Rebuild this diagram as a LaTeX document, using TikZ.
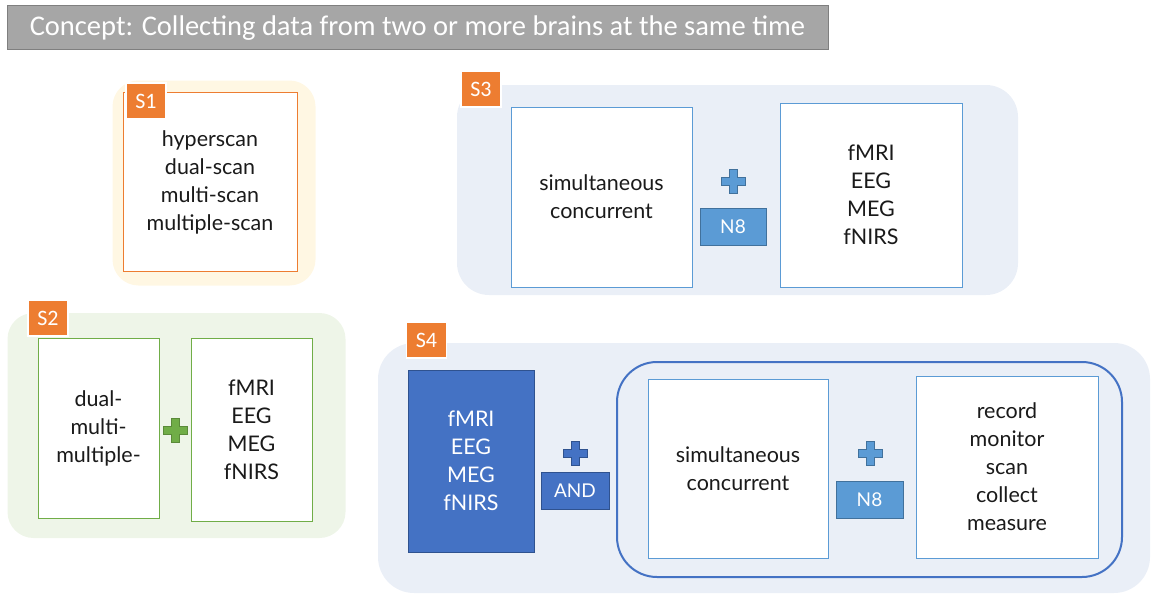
\documentclass[tikz,border=0pt]{standalone}
\usepackage{fontspec}
\setmainfont{Lato}
\newfontfamily\calfont{Carlito}
\definecolor{orangeS}{HTML}{ED7D31}
\definecolor{yellowbg}{HTML}{FFF7E3}
\definecolor{greenbg}{HTML}{EEF5E8}
\definecolor{greenS}{HTML}{70AD47}
\definecolor{bluebg}{HTML}{EAEFF7}
\definecolor{lblue}{HTML}{5B9BD5}
\definecolor{dblue}{HTML}{4472C4}
\definecolor{dbluebd}{HTML}{2F528F}
\definecolor{lbluebd}{HTML}{41719C}
\definecolor{titlegray}{HTML}{A6A6A6}
\definecolor{titlebd}{HTML}{7F7F7F}
\definecolor{txt}{HTML}{1A1A1A}
\begin{document}
\begin{tikzpicture}[x=1pt,y=-1pt,
  bodyfont/.style={font=\fontsize{21.5}{28}\selectfont},
  titlebox/.style={fill=titlegray,draw=titlebd,line width=1pt,text=white,inner sep=0pt,
    font=\calfont\fontsize{28.5}{32}\selectfont},
  group/.style={rounded corners=#1,inner sep=0pt},
  slabel/.style={fill=orangeS,draw=white,line width=1.5pt,text=white,inner sep=0pt,
    minimum width=40,minimum height=36,font=\calfont\fontsize{22}{24}\selectfont},
  wbox/.style={fill=white,draw=#1,line width=0.9pt,inner sep=0pt,align=center,text=txt,bodyfont},
  tag/.style={fill=#1,draw=lbluebd,line width=0.6pt,text=white,inner sep=0pt,
    minimum width=66,minimum height=37,font=\fontsize{19}{22}\selectfont},
  crossmark/.pic={\path[pic actions] (-12,-4) -- (-4,-4) -- (-4,-12) -- (4,-12) -- (4,-4)
     -- (12,-4) -- (12,4) -- (4,4) -- (4,12) -- (-4,12) -- (-4,4) -- (-12,4) -- cycle;}
]
\useasboundingbox (0,0) rectangle (1151,594);

% title
\node[titlebox,minimum width=821,minimum height=44] (title) at (417.5,28)
  {Concept: Collecting data from two or more brains at the same time};

% S1
\node[group=26,fill=yellowbg,minimum width=203,minimum height=205] (g1) at (214,183) {};
\node[wbox=orangeS,minimum width=174,minimum height=179] (s1box) at (210,182)
  {hyperscan\\dual-scan\\multi-scan\\multiple-scan};
\node[slabel] (s1) at (146,101) {S1};

% S2
\node[group=26,fill=greenbg,minimum width=338,minimum height=225] (g2) at (176.5,425.5) {};
\node[wbox=greenS,minimum width=121,minimum height=180] (s2a) at (98.5,428)
  {dual-\\multi-\\multiple-};
\node[wbox=greenS,minimum width=121,minimum height=183] (s2b) at (251.5,429.5)
  {fMRI\\EEG\\MEG\\fNIRS};
\pic[fill=greenS,draw=greenS!80!black,line width=0.4pt] (p2) at (175,430) {crossmark};
\node[slabel] (s2) at (48,318) {S2};

% S3
\node[group=32,fill=bluebg,minimum width=561,minimum height=210] (g3) at (737.5,190) {};
\node[wbox=lblue,minimum width=181,minimum height=180] (s3a) at (601.5,197)
  {simultaneous\\concurrent};
\node[wbox=lblue,minimum width=182,minimum height=184] (s3b) at (871,195)
  {fMRI\\EEG\\MEG\\fNIRS};
\pic[fill=lblue,draw=lbluebd,line width=0.4pt] (p3) at (733,181) {crossmark};
\node[tag=lblue] (n8a) at (733,227) {N8};
\node[slabel] (s3) at (481,89) {S3};

% S4
\node[group=36,fill=bluebg,minimum width=772,minimum height=250] (g4) at (764,468) {};
\node[fill=dblue,draw=dbluebd,line width=0.6pt,inner sep=0pt,minimum width=126,minimum height=182,
  align=center,text=white,bodyfont] (s4a) at (471,461) {fMRI\\EEG\\MEG\\fNIRS};
\pic[fill=dblue,draw=dbluebd,line width=0.5pt] (p4a) at (575,453) {crossmark};
\node[tag=dblue,draw=dbluebd,minimum width=68] (and) at (575,490.5) {AND};
\node[draw=dblue,line width=2pt,rounded corners=40,inner sep=0pt,
  minimum width=505,minimum height=215] (inner) at (869.5,469.5) {};
\node[wbox=lblue,minimum width=180,minimum height=179] (s4b) at (738,468.5)
  {simultaneous\\concurrent};
\node[wbox=lblue,minimum width=182,minimum height=182] (s4c) at (1007,467)
  {record\\monitor\\scan\\collect\\measure};
\pic[fill=lblue,draw=lbluebd,line width=0.4pt] (p4b) at (870,453) {crossmark};
\node[tag=lblue,minimum width=67] (n8b) at (869.5,499.5) {N8};
\node[slabel] (s4) at (426.5,340) {S4};
\end{tikzpicture}
\end{document}
